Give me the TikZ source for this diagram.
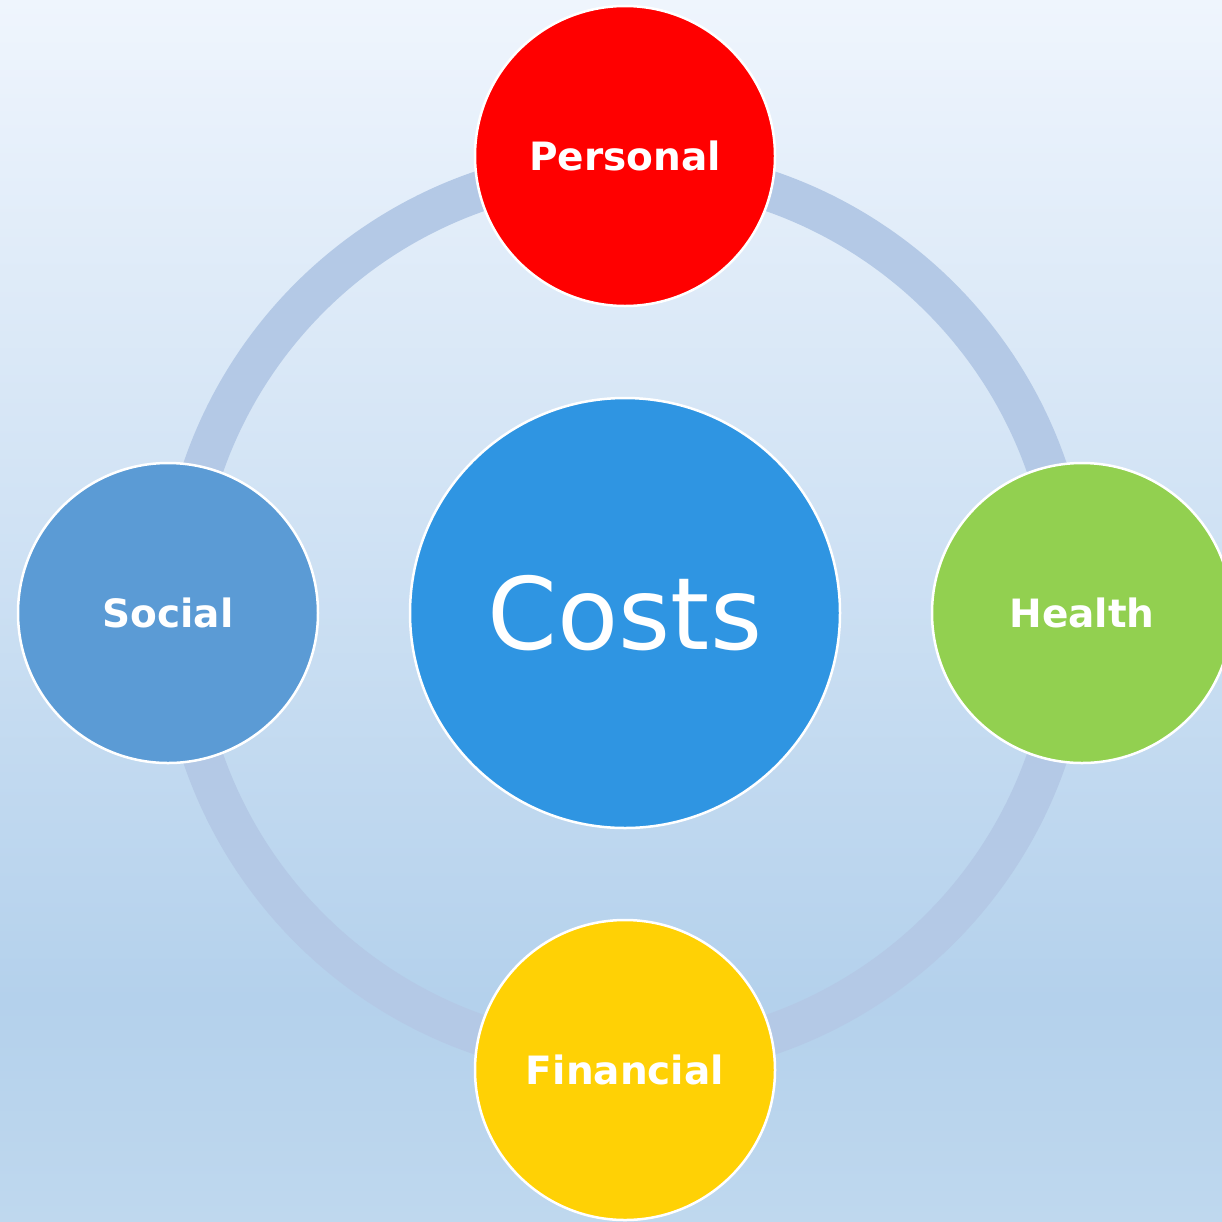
\documentclass[tikz,border=0pt]{standalone}
\usepackage{fontspec}
\setmainfont{DejaVu Sans}
\definecolor{bgtop}{HTML}{EFF5FD}
\definecolor{bgmid}{HTML}{B4D1EC}
\definecolor{bgbot}{HTML}{BFD8EE}
\definecolor{ringc}{HTML}{B4C9E6}
\definecolor{costc}{HTML}{2F95E2}
\definecolor{persc}{HTML}{FF0000}
\definecolor{socc}{HTML}{5B9BD5}
\definecolor{healc}{HTML}{92D050}
\definecolor{finc}{HTML}{FFD105}
\tikzset{
  ball/.style={circle, draw=white, line width=2.5pt, minimum size=300pt, inner sep=0pt,
    text=white, font=\fontsize{39}{44}\selectfont\bfseries},
  bigball/.style={circle, draw=white, line width=2.5pt, minimum size=430pt, inner sep=0pt,
    fill=costc, text=white, font=\fontsize{100}{110}\selectfont},
  ringline/.style={draw=ringc, line width=40.5pt}
}
\begin{document}
\begin{tikzpicture}[x=1pt,y=-1pt]
\useasboundingbox (0,0) rectangle (1222,1221);
\clip (0,0) rectangle (1222,1221);
\shade[top color=bgtop, bottom color=bgmid] (0,0) rectangle (1222,1000);
\shade[top color=bgmid, bottom color=bgbot] (0,999.5) rectangle (1222,1221);
\coordinate (c) at (625,613);
\draw[ringline] (c) circle (446pt);
\node[bigball] (costs) at (c) {Costs};
\node[ball, fill=persc] (personal) at (625,156) {Personal};
\node[ball, fill=socc] (social) at (168,613) {Social};
\node[ball, fill=healc] (health) at (1082,613) {Health};
\node[ball, fill=finc] (financial) at (625,1070) {Financial};
\end{tikzpicture}
\end{document}
